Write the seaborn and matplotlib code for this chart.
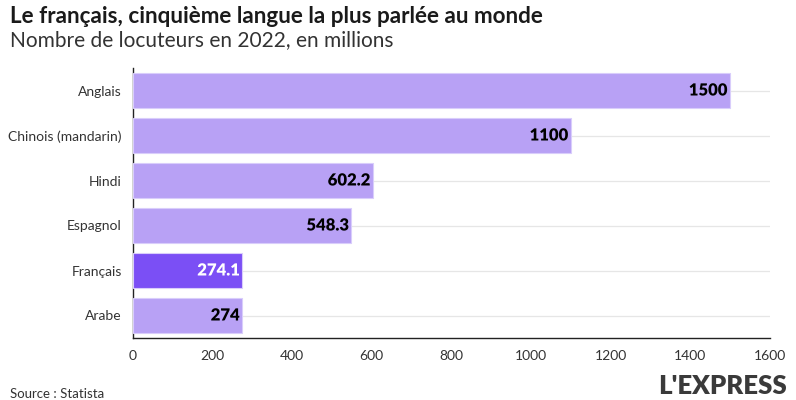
import matplotlib
matplotlib.use("Agg")
import matplotlib.pyplot as plt
import matplotlib.patheffects as pe
import seaborn as sns
import pandas as pd

# Data
langues = ["Anglais", "Chinois (mandarin)", "Hindi", "Espagnol", "Français", "Arabe"]
locuteurs = [1500, 1100, 602.2, 548.3, 274.1, 274]
etiquettes = ["1500", "1100", "602.2", "548.3", "274.1", "274"]
x_ticks = [0, 200, 400, 600, 800, 1000, 1200, 1400, 1600]

df = pd.DataFrame({"langue": langues, "locuteurs": locuteurs})

sns.set_theme(style="white")
plt.rcParams["font.family"] = ["Lato", "DejaVu Sans"]

light = "#b8a1f5"
dark = "#7b4ff5"
palette = [dark if l == "Français" else light for l in langues]

fig = plt.figure(figsize=(7.96, 4.0), dpi=100)
ax = fig.add_axes([0.167, 0.155, 0.8, 0.675])

sns.barplot(data=df, x="locuteurs", y="langue", hue="langue", palette=palette,
            legend=False, width=0.76, saturation=1, edgecolor="#d9cdfb",
            linewidth=0.8, ax=ax, zorder=3)

# value labels inside bars
for i, (v, lab) in enumerate(zip(locuteurs, etiquettes)):
    is_fr = langues[i] == "Français"
    col = "white" if is_fr else "black"
    halo = dark if is_fr else light
    ax.text(v - 6, i, lab, ha="right", va="center", fontsize=12, fontweight="heavy",
            color=col, zorder=5,
            path_effects=[pe.withStroke(linewidth=2.5, foreground=halo)])

ax.set_xlim(0, 1600)
ax.set_ylim(5.5, -0.5)
ax.set_xticks(x_ticks)
ax.set_xticklabels([str(t) for t in x_ticks])
ax.set_xlabel("")
ax.set_ylabel("")

# light horizontal gridlines at category positions
for i in range(len(langues)):
    ax.axhline(i, color="#e6e6e6", linewidth=0.9, zorder=1)

sns.despine(ax=ax, top=True, right=True)
ax.spines["left"].set_color("#222222")
ax.spines["bottom"].set_color("#222222")
ax.spines["left"].set_linewidth(1.0)
ax.spines["bottom"].set_linewidth(1.0)
ax.tick_params(axis="both", which="both", direction="out", length=5, width=1,
               color="#222222", labelcolor="#333333", labelsize=10)
ax.tick_params(axis="y", pad=3)

fig.text(0.012, 0.985, "Le français, cinquième langue la plus parlée au monde",
         fontsize=16.2, fontweight="bold", color="#1a1a1a", va="top", ha="left")
fig.text(0.012, 0.925, "Nombre de locuteurs en 2022, en millions",
         fontsize=15, color="#333333", va="top", ha="left")
fig.text(0.012, 0.0, "Source : Statista", fontsize=9.5, color="#333333",
         va="bottom", ha="left")
fig.text(0.988, 0.004, "L'EXPRESS", fontsize=18.5, fontweight="heavy",
         color="#3a3a3a", va="bottom", ha="right")

fig.savefig("out.png", dpi=100)
